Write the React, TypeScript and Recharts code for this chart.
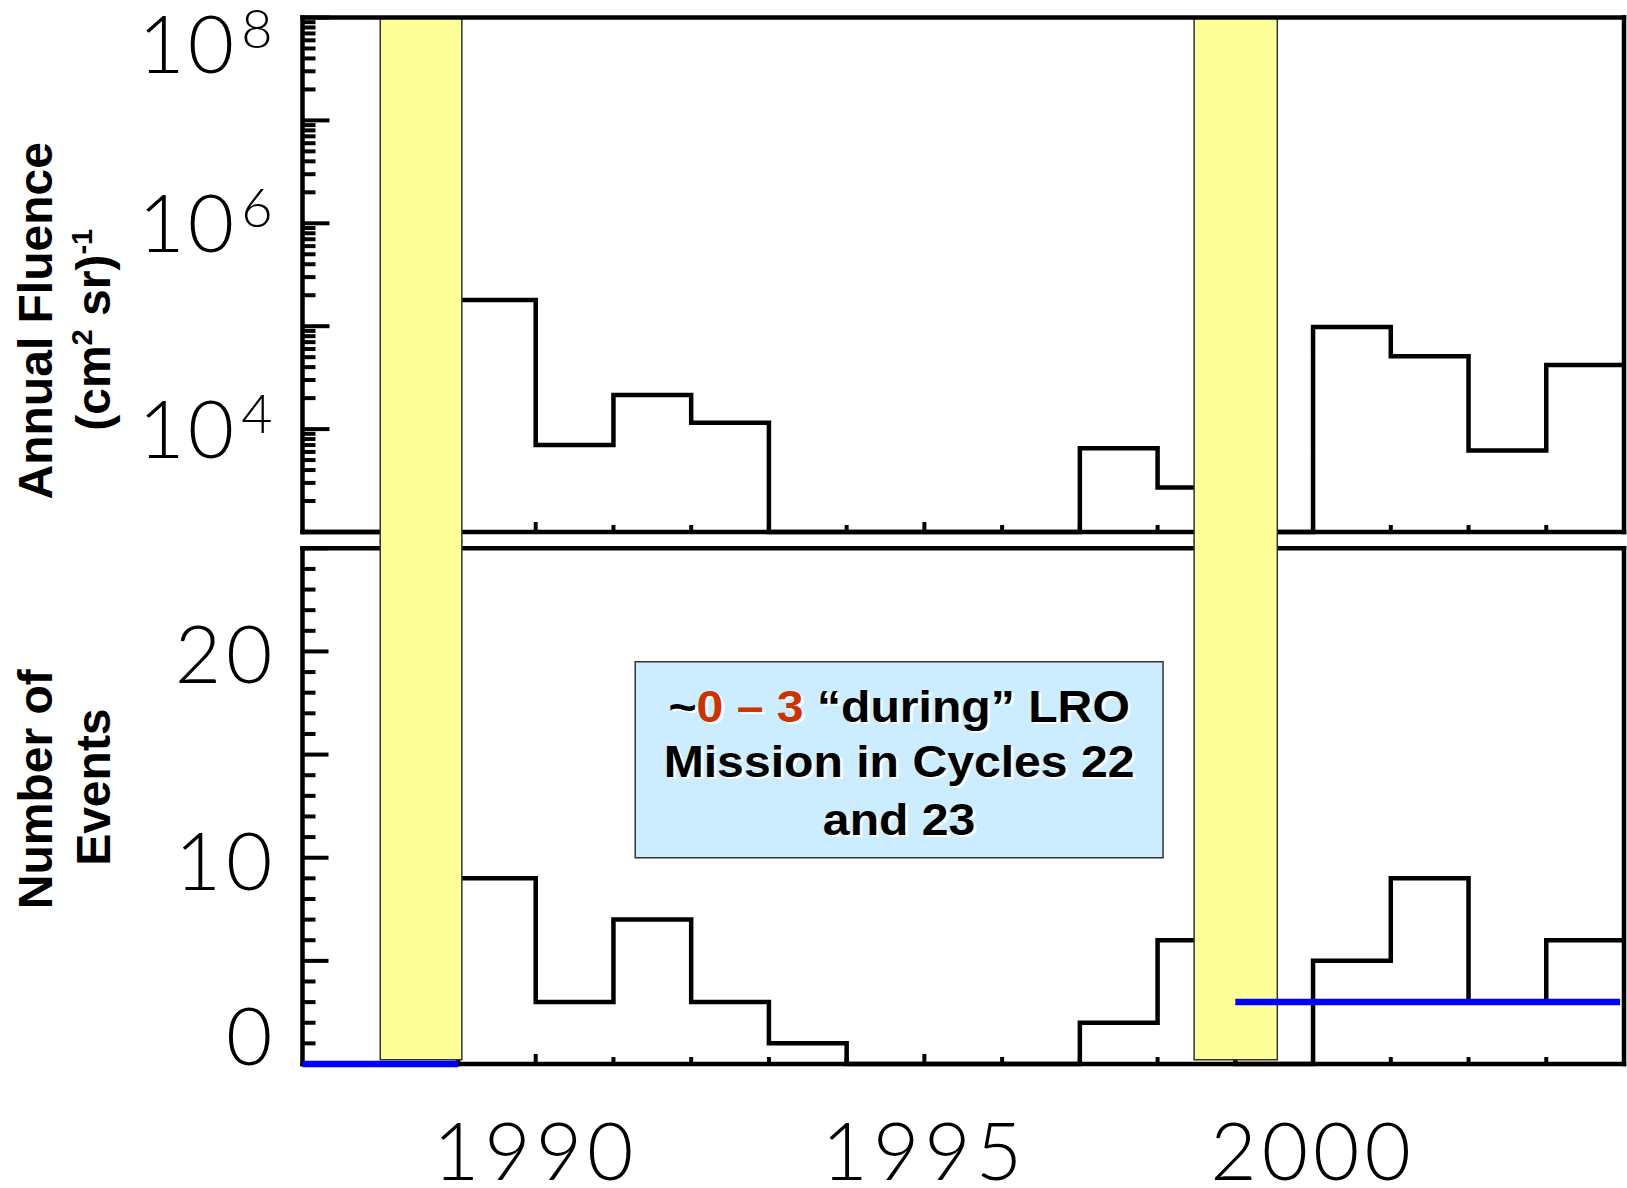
import React from "react";
import { ComposedChart, Line, XAxis, YAxis, ReferenceArea } from "recharts";

// yearly bins (value of each bin starts at the listed year; last entry closes the final step)
const years = [1987, 1988, 1989, 1990, 1991, 1992, 1993, 1994, 1995, 1996, 1997, 1998, 1999, 2000, 2001, 2002, 2003, 2004];
// annual fluence, (cm2 sr)^-1 ; 1e3 = at/below the plot floor
const fluence = [1e3, 1e3, 1.8e5, 7.0e3, 2.15e4, 1.15e4, 1e3, 1e3, 1e3, 1e3, 6.5e3, 2.7e3, 1e3, 9.8e4, 5.1e4, 6.2e3, 4.2e4, 4.2e4];
// number of events per year
const events = [0, 0, 9, 3, 7, 3, 1, 0, 0, 0, 2, 6, 0, 5, 9, 3, 6, 6];

// solar-max periods shaded in yellow
const bandStart = [1988, 1998.47];
const bandEnd = [1989.05, 1999.54];

// "during LRO" estimates (blue lines)
const lroStart = [1987, 1999];
const lroEnd = [1989, 2003.95];
const lroValue = [0, 3];

const xDomain: [number, number] = [1987, 2004];
const xLabels = [1990, 1995, 2000];
const xMajor = [1990, 1995, 2000];

const decades = [1e3, 1e4, 1e5, 1e6, 1e7, 1e8];
const fluenceTicks = decades.flatMap((d, i) =>
  i === decades.length - 1 ? [d] : [1, 2, 3, 4, 5, 6, 7, 8, 9].map((m) => m * d)
);
const fluenceLabelExp = [4, 6, 8];

const eventTicks = [0, 1, 2, 3, 4, 5, 6, 7, 8, 9, 10, 11, 12, 13, 14, 15, 16, 17, 18, 19, 20, 21, 22, 23, 24, 25];
const eventLabels = [0, 10, 20];

const fluenceData = years.map((year, i) => ({ year, value: fluence[i] }));
const eventData = years.map((year, i) => ({ year, value: events[i] }));
const lroData = lroStart.map((s, i) => [
  { year: s, value: lroValue[i] },
  { year: lroEnd[i], value: lroValue[i] },
]);

const W = 1627;
const LEFT = 302.5;
const RIGHT = 3;
const NUM_FONT = "Lato, 'DejaVu Sans', sans-serif";
const BOLD_FONT = "'Liberation Sans', Arial, Helvetica, sans-serif";
const TICK_W = 4;

// the yellow bands hide whatever tick falls under them
const underBand = (v: number) => bandStart.some((s, i) => v >= s && v <= bandEnd[i]);

function XTickBottom(props: any) {
  const { x, y, payload, showLabel } = props;
  const len = xMajor.includes(payload.value) ? 10 : 7;
  const edge = payload.value === xDomain[0] || payload.value === xDomain[1];
  return (
    <g>
      {!underBand(payload.value) && !edge && (
        <line x1={x} x2={x} y1={y} y2={y - len} stroke="#000" strokeWidth={TICK_W} />
      )}
      {showLabel && xLabels.includes(payload.value) && (
        <text x={x} y={y + 116} textAnchor="middle" fontFamily={NUM_FONT} fontWeight={300} fontSize={80} letterSpacing={5} fill="#000">
          {payload.value}
        </text>
      )}
    </g>
  );
}

function XTickTop(props: any) {
  const { x, y, payload } = props;
  const len = xMajor.includes(payload.value) ? 10 : 7;
  const edge = payload.value === xDomain[0] || payload.value === xDomain[1];
  if (underBand(payload.value) || edge) return <g />;
  return <line x1={x} x2={x} y1={y} y2={y + len} stroke="#000" strokeWidth={TICK_W} />;
}

function LogTickLeft(props: any) {
  const { x, y, payload } = props;
  const lg = Math.log10(payload.value);
  const exp = Math.round(lg);
  const major = Math.abs(lg - exp) < 1e-6;
  const len = major ? 27 : 13;
  const top = exp === 8;
  return (
    <g>
      <line x1={x} x2={x + len} y1={y} y2={y} stroke="#000" strokeWidth={TICK_W} />
      {major && fluenceLabelExp.includes(exp) && (
        <text x={x - 27} y={top ? y + 55 : y + 29} textAnchor="end" fontFamily={NUM_FONT} fontWeight={300} fontSize={80} letterSpacing={3} fill="#000">
          <tspan>10</tspan>
          <tspan dx={4} dy={-25} fontSize={54}>{exp}</tspan>
        </text>
      )}
    </g>
  );
}

function LogTickRight(props: any) {
  const { x, y, payload } = props;
  const lg = Math.log10(payload.value);
  const major = Math.abs(lg - Math.round(lg)) < 1e-6;
  const len = major ? 27 : 13;
  return <line x1={x} x2={x - len} y1={y} y2={y} stroke="#000" strokeWidth={TICK_W} />;
}

function EventTickLeft(props: any) {
  const { x, y, payload } = props;
  const v = payload.value;
  const major = v % 5 === 0;
  const len = major ? 26 : 13;
  return (
    <g>
      {v !== 0 && <line x1={x} x2={x + len} y1={y} y2={y} stroke="#000" strokeWidth={TICK_W} />}
      {eventLabels.includes(v) && (
        <text x={x - 25} y={v === 0 ? y + 1 : y + 32} textAnchor="end" fontFamily={NUM_FONT} fontWeight={300} fontSize={80} letterSpacing={5} fill="#000">
          {v}
        </text>
      )}
    </g>
  );
}

function EventTickRight(props: any) {
  const { x, y, payload } = props;
  const len = payload.value % 5 === 0 ? 26 : 13;
  if (payload.value === 0) return <g />;
  return <line x1={x} x2={x - len} y1={y} y2={y} stroke="#000" strokeWidth={TICK_W} />;
}

function TopTitle(props: any) {
  const vb = props.viewBox;
  const cy = vb.y + vb.height / 2;
  return (
    <g fontFamily={BOLD_FONT} fontWeight="bold" fontSize={48} fill="#000">
      <text transform="rotate(-90)" x={-(cy + 46)} y={52} textAnchor="middle">Annual Fluence</text>
      <text transform="rotate(-90)" x={-(cy + 55)} y={110} textAnchor="middle">
        <tspan>(cm</tspan>
        <tspan fontSize={29} dy={-18}>2</tspan>
        <tspan dy={18}> sr)</tspan>
        <tspan fontSize={29} dy={-18}>-1</tspan>
      </text>
    </g>
  );
}

function BottomTitle(props: any) {
  const vb = props.viewBox;
  const cy = vb.y + vb.height / 2;
  return (
    <g fontFamily={BOLD_FONT} fontWeight="bold" fontSize={48} fill="#000">
      <text transform="rotate(-90)" x={-(cy - 17)} y={52} textAnchor="middle">Number of</text>
      <text transform="rotate(-90)" x={-(cy - 19)} y={110} textAnchor="middle">Events</text>
    </g>
  );
}

function NoteText(props: any) {
  const vb = props.viewBox;
  const cx = vb.x + vb.width / 2;
  const rows = [vb.y + 60, vb.y + 115, vb.y + 173];
  const line = (dx: number, dy: number, shadow: boolean) => (
    <g fill={shadow ? "#fff" : "#000"} transform={`translate(${dx},${dy})`}>
      <text x={cx} y={rows[0]} textAnchor="middle">
        <tspan>~</tspan>
        <tspan fill={shadow ? "#fff" : "#CC3300"}>0 – 3</tspan>
        <tspan> “during” LRO</tspan>
      </text>
      <text x={cx} y={rows[1]} textAnchor="middle">Mission in Cycles 22</text>
      <text x={cx} y={rows[2]} textAnchor="middle">and 23</text>
    </g>
  );
  return (
    <g fontFamily={BOLD_FONT} fontWeight="bold" fontSize={45}
      transform={`translate(${cx},0) scale(1.07,1) translate(${-cx},0)`}>
      {line(2.5, 2.5, true)}
      {line(0, 0, false)}
    </g>
  );
}

const frame = { stroke: "#000", strokeWidth: 4.5, strokeLinecap: "square" as const };

export default function App() {
  return (
    <div style={{ position: "relative", width: W, height: 1188, background: "#fff" }}>
      <style>{`body{margin:0;background:#fff}`}</style>

      {/* top panel: annual fluence (log) */}
      <div style={{ position: "absolute", left: 0, top: 0 }}>
        <ComposedChart width={W} height={548} data={fluenceData} margin={{ top: 16.5, right: RIGHT - 1, bottom: 15, left: LEFT - 1 }}>
          <YAxis yAxisId="left" orientation="left" scale="log" type="number" domain={[1e3, 1e8]} ticks={fluenceTicks}
            interval={0} width={1} tickSize={0} tickMargin={0} tickLine={false} axisLine={frame} tick={LogTickLeft}
            label={{ content: TopTitle }} zIndex={420} />
          <YAxis yAxisId="right" orientation="right" scale="log" type="number" domain={[1e3, 1e8]} ticks={fluenceTicks}
            interval={0} width={1} tickSize={0} tickMargin={0} tickLine={false} axisLine={frame} tick={LogTickRight} zIndex={420} />
          <XAxis xAxisId="bottom" dataKey="year" type="number" domain={xDomain} ticks={years} interval={0} height={1}
            tickSize={0} tickMargin={0} tickLine={false} axisLine={frame} tick={<XTickBottom showLabel={false} />} zIndex={420} />
          <Line xAxisId="bottom" yAxisId="left" dataKey="value" type="stepAfter" stroke="#000" strokeWidth={4.5}
            dot={false} isAnimationActive={false} zIndex={400} />
          {bandStart.map((s, i) => (
            <ReferenceArea key={i} xAxisId="bottom" yAxisId="left" x1={s} x2={bandEnd[i]} y1={800} y2={1e8}
              fill="#FFFF99" fillOpacity={1} stroke="#333" strokeWidth={1.5} ifOverflow="visible" zIndex={450} />
          ))}
          <XAxis xAxisId="top" orientation="top" type="number" domain={xDomain} ticks={years} interval={0} height={1}
            tickSize={0} tickMargin={0} tickLine={false} axisLine={frame} tick={XTickTop} zIndex={500} />
        </ComposedChart>
      </div>

      {/* bottom panel: number of events */}
      <div style={{ position: "absolute", left: 0, top: 540 }}>
        <ComposedChart width={W} height={648} data={eventData} margin={{ top: 7.3, right: RIGHT - 1, bottom: 123, left: LEFT - 1 }}>
          <YAxis yAxisId="left" orientation="left" type="number" domain={[0, 25]} ticks={eventTicks}
            interval={0} width={1} tickSize={0} tickMargin={0} tickLine={false} axisLine={frame} tick={EventTickLeft}
            label={{ content: BottomTitle }} zIndex={420} />
          <YAxis yAxisId="right" orientation="right" type="number" domain={[0, 25]} ticks={eventTicks}
            interval={0} width={1} tickSize={0} tickMargin={0} tickLine={false} axisLine={frame} tick={EventTickRight} zIndex={420} />
          <XAxis xAxisId="top" orientation="top" type="number" domain={xDomain} ticks={years} interval={0} height={1}
            tickSize={0} tickMargin={0} tickLine={false} axisLine={frame} tick={XTickTop} zIndex={420} />
          <Line xAxisId="bottom" yAxisId="left" dataKey="value" type="stepAfter" stroke="#000" strokeWidth={4.5}
            dot={false} isAnimationActive={false} zIndex={400} />
          {bandStart.map((s, i) => (
            <ReferenceArea key={i} xAxisId="bottom" yAxisId="left" x1={s} x2={bandEnd[i]} y1={0.2} y2={25.45}
              fill="#FFFF99" fillOpacity={1} stroke="#333" strokeWidth={1.5} ifOverflow="visible" zIndex={450} />
          ))}
          <XAxis xAxisId="bottom" dataKey="year" type="number" domain={xDomain} ticks={years} interval={0} height={1}
            tickSize={0} tickMargin={0} tickLine={false} axisLine={frame} tick={<XTickBottom showLabel />} zIndex={500} />
          <ReferenceArea xAxisId="bottom" yAxisId="left" x1={1991.28} x2={1998.07} y1={10} y2={19.5}
            fill="#CCECFF" fillOpacity={1} stroke="#333" strokeWidth={1.5} ifOverflow="visible" zIndex={550}
            label={{ content: NoteText }} />
          {lroData.map((d, i) => (
            <Line key={i} xAxisId="bottom" yAxisId="left" data={d} dataKey="value" type="linear" stroke="#0000FF"
              strokeWidth={6.5} dot={false} isAnimationActive={false} zIndex={600} />
          ))}
        </ComposedChart>
      </div>
    </div>
  );
}
